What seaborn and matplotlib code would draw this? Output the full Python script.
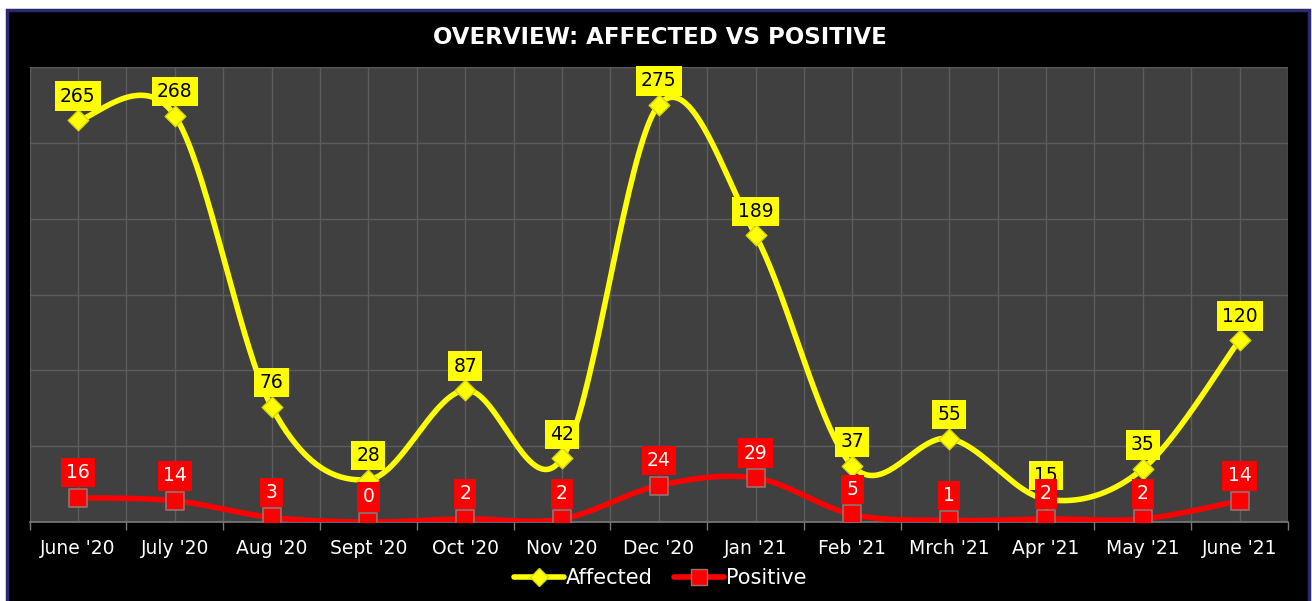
import numpy as np
import pandas as pd
import seaborn as sns
import matplotlib.pyplot as plt
from matplotlib.patches import Rectangle
from matplotlib.lines import Line2D

months = ["June '20", "July '20", "Aug '20", "Sept '20", "Oct '20", "Nov '20",
          "Dec '20", "Jan '21", "Feb '21", "Mrch '21", "Apr '21", "May '21", "June '21"]
affected = [265, 268, 76, 28, 87, 42, 275, 189, 37, 55, 15, 35, 120]
positive = [16, 14, 3, 0, 2, 2, 24, 29, 5, 1, 2, 2, 14]

YELLOW = "#ffff00"
RED = "#ff0000"
PLOT_BG = "#404040"
GRID = "#5c5c5c"


def smooth(xs, ys, n=40):
    """Catmull-Rom style smoothing through every point (Excel 'smoothed line')."""
    P = np.column_stack([xs, ys]).astype(float)
    P = np.vstack([P[0], P, P[-1]])
    out = []
    t = np.linspace(0, 1, n)[:, None]
    for i in range(1, len(P) - 2):
        p0, p1, p2, p3 = P[i - 1], P[i], P[i + 1], P[i + 2]
        c1 = p1 + (p2 - p0) / 6
        c2 = p2 - (p3 - p1) / 6
        seg = ((1 - t) ** 3) * p1 + 3 * ((1 - t) ** 2) * t * c1 + 3 * (1 - t) * t ** 2 * c2 + t ** 3 * p2
        out.append(seg if i == 1 else seg[1:])
    S = np.vstack(out)
    return S[:, 0], S[:, 1]


sns.set_theme(style="dark")
plt.rcParams["font.family"] = ["DejaVu Sans"]

W, H = 1312, 601
fig = plt.figure(figsize=(W / 100, H / 100), dpi=100)
fig.patch.set_facecolor("white")
fig.patches.append(Rectangle((7 / W, -0.01), (1309 - 7) / W, 1 - 10 / H + 0.01,
                             transform=fig.transFigure, facecolor="black",
                             edgecolor="#2b2a70", linewidth=2.5, zorder=-5))

ax = fig.add_axes([29.5 / W, 1 - 522 / H, (1288 - 29.5) / W, (522 - 67) / H])
ax.set_zorder(2)
ax.set_facecolor(PLOT_BG)

x = np.arange(len(months))
df = pd.DataFrame({"month": months, "x": x, "Affected": affected, "Positive": positive})

# smoothed connecting lines
for col, color in (("Affected", YELLOW), ("Positive", RED)):
    sx, sy = smooth(df["x"].values, df[col].values)
    ax.plot(sx, sy, color=color, linewidth=4, solid_capstyle="round", zorder=3)

# markers
sns.scatterplot(data=df, x="x", y="Affected", marker="D", s=110, color=YELLOW,
                edgecolor="#d8d800", linewidth=1, ax=ax, zorder=4, legend=False)
sns.scatterplot(data=df, x="x", y="Positive", marker="s", s=150, color=RED,
                edgecolor="#9a7070", linewidth=1.2, ax=ax, zorder=4, legend=False)

# value labels
for xi, v in zip(x, affected):
    ax.annotate(str(v), (xi, v), xytext=(0, 24), textcoords="offset pixels",
                ha="center", va="center", fontsize=13.5, color="black", zorder=6,
                bbox=dict(boxstyle="square,pad=0.28", fc=YELLOW, ec="none"))
for xi, v in zip(x, positive):
    ax.annotate(str(v), (xi, v), xytext=(0, 25), textcoords="offset pixels",
                ha="center", va="center", fontsize=13.5, color="white", zorder=7,
                bbox=dict(boxstyle="square,pad=0.28", fc=RED, ec="none"))

ax.set_xlim(-0.5, len(months) - 0.5)
ax.set_ylim(0, 300)
ax.set_yticks(np.arange(0, 301, 50))
ax.set_yticklabels([])
ax.set_xticks(x)
ax.set_xticklabels(months, color="white", fontsize=13.5)
ax.set_xticks(np.arange(-0.5, len(months), 1), minor=True)
ax.tick_params(axis="x", which="major", length=0, pad=12)
ax.tick_params(axis="x", which="minor", length=6, color="#7a7a7a", width=1, bottom=True)
ax.tick_params(axis="y", length=0)
ax.grid(True, which="major", axis="both", color=GRID, linewidth=1)
ax.grid(True, which="minor", axis="x", color=GRID, linewidth=1)
ax.set_xlabel("")
ax.set_ylabel("")
for side in ("left", "right", "top"):
    ax.spines[side].set_visible(False)
ax.spines["bottom"].set_color("#7a7a7a")
ax.spines["bottom"].set_linewidth(1.2)

fig.text(660 / W, 1 - 37 / H, "OVERVIEW: AFFECTED VS POSITIVE", color="white",
         fontsize=16.5, fontweight="bold", ha="center", va="center")

handles = [
    Line2D([0], [0], color=YELLOW, lw=4, marker="D", markersize=9,
           markerfacecolor=YELLOW, markeredgecolor="#d8d800"),
    Line2D([0], [0], color=RED, lw=4, marker="s", markersize=11,
           markerfacecolor=RED, markeredgecolor="#9a7070"),
]
leg = fig.legend(handles, ["Affected", "Positive"], loc="center",
                 bbox_to_anchor=(660 / W, 1 - 578 / H), ncol=2, frameon=False,
                 fontsize=15, handlelength=2.4, handletextpad=0.1, columnspacing=1.0)
for t in leg.get_texts():
    t.set_color("white")

fig.savefig("out.png", dpi=100, facecolor=fig.get_facecolor())
